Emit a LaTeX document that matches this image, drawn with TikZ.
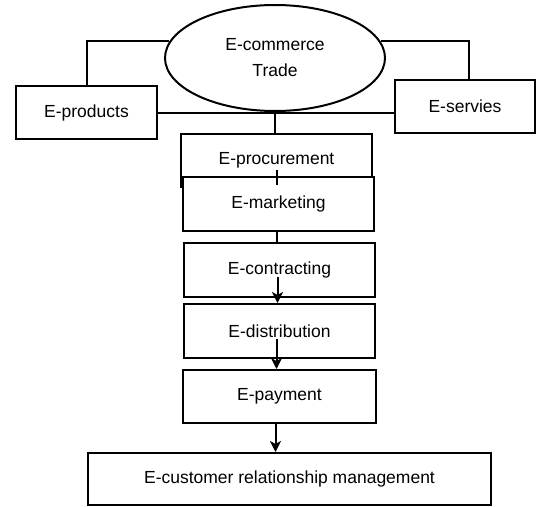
\documentclass[tikz,border=0pt]{standalone}
\usepackage{fontspec}
\setmainfont{Liberation Sans}
\usetikzlibrary{shapes.geometric,arrows.meta}

\tikzset{
    blocco/.style={draw, line width=2pt, fill=white, inner sep=0pt,
        font=\fontsize{17.5}{26}\selectfont},
    centro/.style={blocco, ellipse, align=center},
    freccia/.style={line width=2pt, -{Stealth[length=11pt,width=11pt,inset=3pt]}},
    linea/.style={line width=2pt}
}

\begin{document}
\begin{tikzpicture}[x=1pt,y=-1pt]
    \useasboundingbox (0,0) rectangle (538,506);

    % Nodo centrale
    \node[centro, minimum width=220pt, minimum height=106pt] (trade) at (275,58) {E-commerce\\Trade};

    % Prodotti e servizi
    \node[blocco, minimum width=141pt, minimum height=53pt] (products) at (86.5,112.5) {E-products};
    \node[blocco, minimum width=140pt, minimum height=53pt] (servies) at (465,106.5) {E-servies};

    % Fasi del processo
    \node[blocco, minimum width=191pt, minimum height=53pt] (procurement) at (276.5,160.5) {\raisebox{3pt}{E-procurement}};
    \node[blocco, minimum width=191pt, minimum height=54pt] (marketing) at (278.5,204) {E-marketing};
    \node[blocco, minimum width=191pt, minimum height=54pt] (contracting) at (279.5,270) {E-contracting};
    \node[blocco, minimum width=191pt, minimum height=54pt] (distribution) at (279.5,331) {E-distribution};
    \node[blocco, minimum width=193pt, minimum height=53pt] (payment) at (279.5,396.5) {E-payment};
    \node[blocco, minimum width=403pt, minimum height=52pt] (crm) at (289.5,479) {E-customer relationship management};

    % Collegamenti in alto
    \draw[linea] (products.north) |- (trade.171);
    \draw[linea] ([xshift=4pt]servies.north) |- (trade.9);
    \draw[linea] (products.east) -- (products.east -| servies.west);
    \draw[linea] (trade.south) -- (trade.south |- procurement.north);

    % Collegamenti tra le fasi
    \draw[linea] ([yshift=-9pt]procurement.center) -- ([yshift=-9pt]procurement.center |- marketing.north);
    \draw[linea] ([xshift=-2pt]marketing.south) -- ([xshift=-2pt]marketing.south |- contracting.north);
    \draw[freccia] ([xshift=-2pt,yshift=-7pt]contracting.center) -- ([xshift=-2pt]distribution.north);
    \draw[freccia] ([xshift=-3pt,yshift=-8pt]distribution.center) -- ([xshift=-3pt]payment.north);
    \draw[freccia] ([xshift=-4pt]payment.south) -- ([xshift=-4pt]payment.south |- crm.north);
\end{tikzpicture}
\end{document}
